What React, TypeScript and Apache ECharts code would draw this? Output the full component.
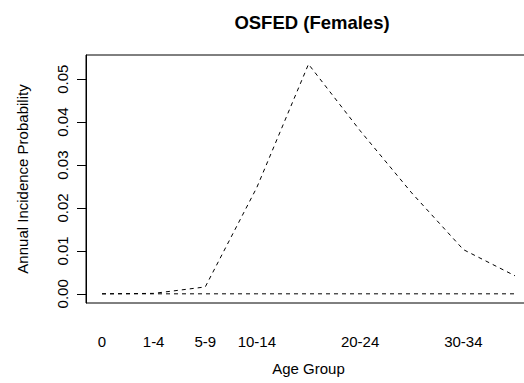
import React, { useEffect, useRef } from "react";
import * as echarts from "echarts";

const categories = ["0", "1-4", "5-9", "10-14", "15-19", "20-24", "25-29", "30-34", "35-39"];
const incidence = [0, 0.0001, 0.0016, 0.0248, 0.0535, 0.038, 0.0235, 0.0103, 0.0042];
const baseline = [0, 0, 0, 0, 0, 0, 0, 0, 0];
const xLabelIdx = [0, 1, 2, 3, 5, 7];
const yTicks = [0, 0.01, 0.02, 0.03, 0.04, 0.05];

const FONT = "'Liberation Sans', Arial, Helvetica, sans-serif";

export default function App() {
  const ref = useRef<HTMLDivElement>(null);
  useEffect(() => {
    if (!ref.current) return;
    const chart = echarts.init(ref.current, null, { renderer: "svg" });
    const dash = { color: "#000", width: 1, type: [4, 4] as number[] };
    chart.setOption({
      animation: false,
      backgroundColor: "#fff",
      textStyle: { fontFamily: FONT },
      title: {
        text: "OSFED (Females)",
        left: 307,
        textAlign: "center",
        top: 8,
        textStyle: { fontFamily: FONT, fontSize: 18.5, fontWeight: "bold", color: "#000" },
      },
      grid: {
        left: 86,
        top: 55,
        width: 445,
        height: 248,
        show: true,
        borderColor: "#000",
        borderWidth: 1,
        backgroundColor: "transparent",
        containLabel: false,
        outerBoundsMode: "none",
      },
      xAxis: {
        type: "value",
        min: -0.31,
        max: 8.31,
        name: "Age Group",
        nameLocation: "middle",
        nameGap: 58,
        nameTextStyle: { fontFamily: FONT, fontSize: 15, color: "#000" },
        axisLine: { show: false, onZero: false },
        axisTick: { show: false },
        splitLine: { show: false },
        axisLabel: {
          customValues: xLabelIdx,
          formatter: (v: number) => categories[Math.round(v)],
          fontFamily: FONT,
          fontSize: 15,
          color: "#000",
          margin: 31,
        },
      },
      yAxis: {
        type: "value",
        min: -0.00214,
        max: 0.05564,
        name: "Annual Incidence Probability",
        nameLocation: "middle",
        nameGap: 56,
        nameTextStyle: { fontFamily: FONT, fontSize: 15, color: "#000" },
        axisLine: { show: true, onZero: false, lineStyle: { color: "#000", width: 1 } },
        axisTick: { show: true, customValues: yTicks, length: 9, lineStyle: { color: "#000" } },
        splitLine: { show: false },
        axisLabel: {
          customValues: yTicks,
          rotate: 90,
          formatter: (v: number) => v.toFixed(2),
          fontFamily: FONT,
          fontSize: 15,
          color: "#000",
          margin: 16,
        },
      },
      series: [
        {
          type: "line",
          data: incidence.map((v, i) => [i, v]),
          showSymbol: false,
          symbol: "none",
          lineStyle: dash,
        },
        {
          type: "line",
          data: baseline.map((v, i) => [i, v]),
          showSymbol: false,
          symbol: "none",
          lineStyle: dash,
        },
      ],
    });
    return () => chart.dispose();
  }, []);
  return (
    <div
      ref={ref}
      style={{ position: "fixed", left: 0, top: 0, width: 524, height: 383, background: "#fff" }}
    />
  );
}
